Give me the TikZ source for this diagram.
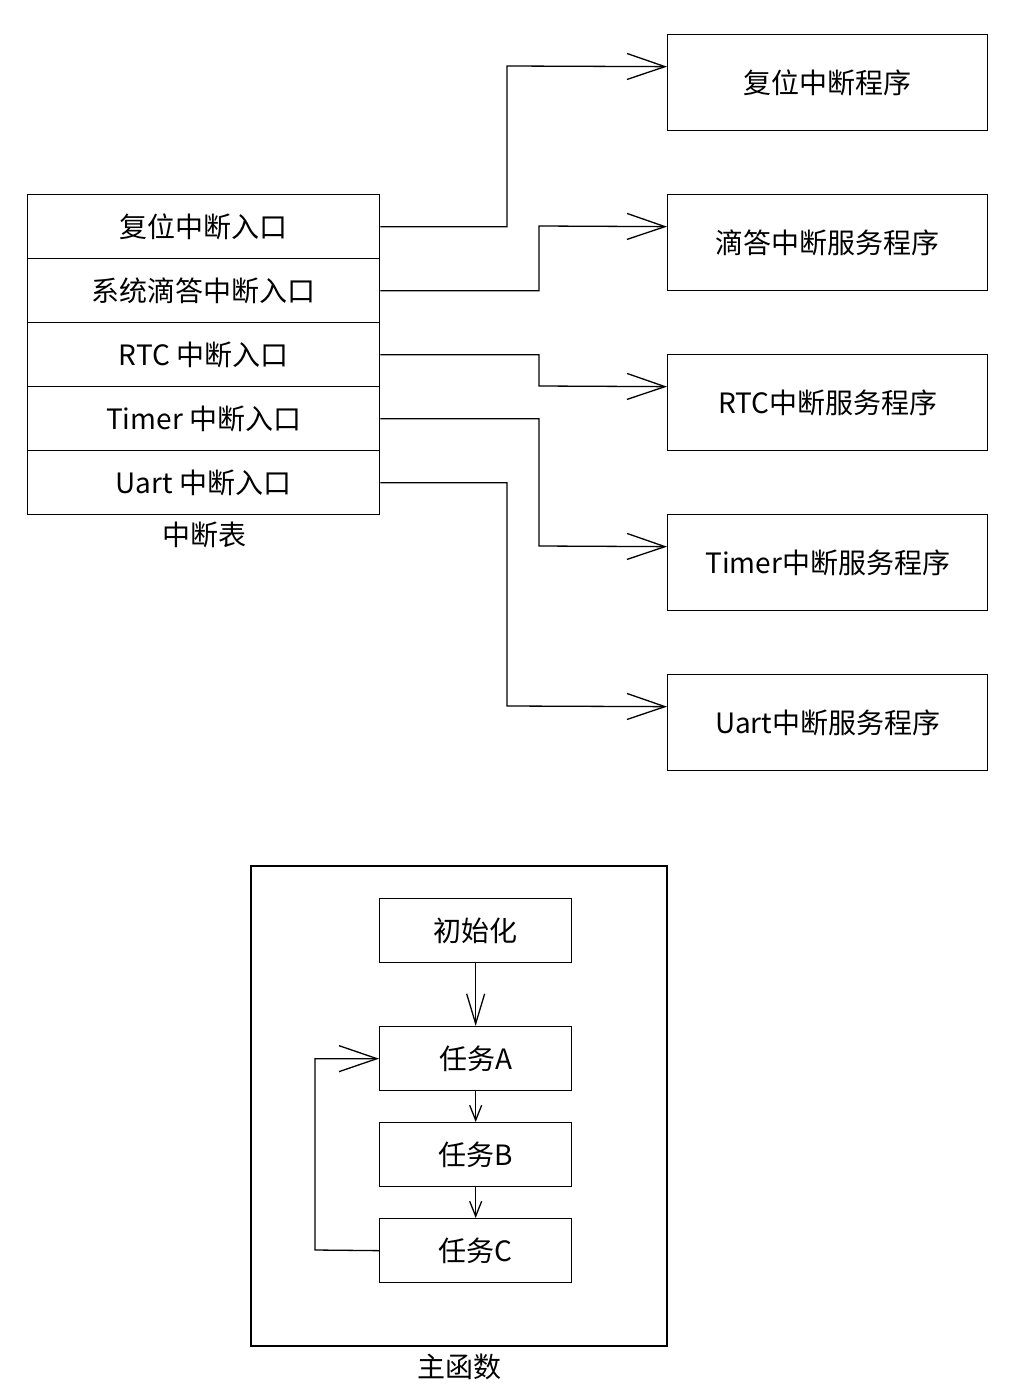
\documentclass[tikz,border=0pt]{standalone}
\usepackage{fontspec}
\setmainfont{Noto Sans CJK SC}
\usetikzlibrary{positioning}
\usetikzlibrary{arrows.meta}

\tikzset{
  cell/.style={draw, line width=1.3pt, minimum width=352pt, minimum height=64pt, inner sep=0pt, anchor=north west},
  isr/.style={draw, line width=1.3pt, minimum width=320pt, minimum height=96pt, inner sep=0pt, anchor=north west},
  task/.style={draw, line width=1.3pt, minimum width=192pt, minimum height=64pt, inner sep=0pt, anchor=north west},
  link/.style={line width=1.3pt, -{Straight Barb[length=38pt,width=26pt,line width=1.3pt]}},
  flow/.style={line width=1.3pt, -{Straight Barb[length=30pt,width=18pt,line width=1.3pt]}},
  small/.style={line width=1.3pt, -{Straight Barb[length=15pt,width=12pt,line width=1.3pt]}},
}

\begin{document}
\begin{tikzpicture}[x=1pt, y=-1pt, font=\fontsize{28}{34}\selectfont]
\useasboundingbox (0,0) rectangle (1011,1397);

% interrupt table
\node (T1) at (27,194) [cell] {复位中断入口};
\node (T2) at (27,258) [cell] {系统滴答中断入口};
\node (T3) at (27,322) [cell] {RTC 中断入口};
\node (T4) at (27,386) [cell] {Timer 中断入口};
\node (T5) at (27,450) [cell] {Uart 中断入口};
\node (TL) at (204,535) {中断表};

% service routines
\node (S1) at (667,34) [isr] {复位中断程序};
\node (S2) at (667,194) [isr] {滴答中断服务程序};
\node (S3) at (667,354) [isr] {RTC中断服务程序};
\node (S4) at (667,514) [isr] {Timer中断服务程序};
\node (S5) at (667,674) [isr] {Uart中断服务程序};

\draw[link] (T1.east) -| (507,66) -- ([yshift=16pt]S1.west);
\draw[link] (T2.east) -| (539,226) -- ([yshift=16pt]S2.west);
\draw[link] (T3.east) -| (539,386) -- ([yshift=16pt]S3.west);
\draw[link] (T4.east) -| (539,546) -- ([yshift=16pt]S4.west);
\draw[link] (T5.east) -| (507,706) -- ([yshift=16pt]S5.west);

% main function
\draw[line width=1.3pt] (251,866) rectangle (667,1346);
\node (ML) at (459,1367) {主函数};
\node (I) at (379,898) [task] {初始化};
\node (A) at (379,1026) [task] {任务A};
\node (B) at (379,1122) [task] {任务B};
\node (C) at (379,1218) [task] {任务C};

\draw[flow] (I) -- (A);
\draw[small] (A) -- (B);
\draw[small] (B) -- (C);
\draw[link] (C.west) -- (315,1250) |- (A.west);
\end{tikzpicture}
\end{document}
